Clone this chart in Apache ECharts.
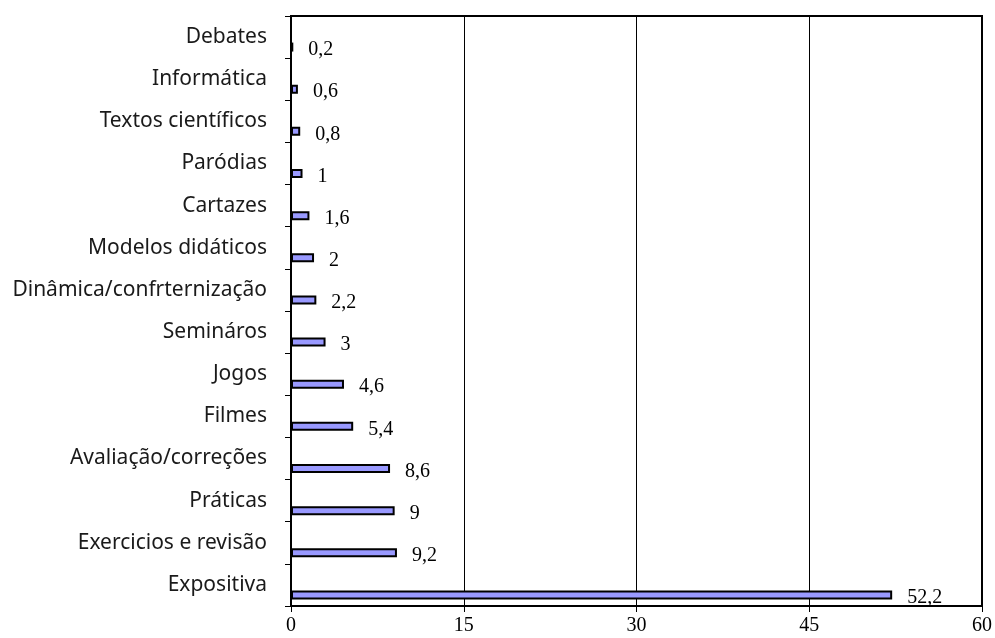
<!DOCTYPE html>
<html><head><meta charset="utf-8">
<script src="https://cdn.jsdelivr.net/npm/echarts@6/dist/echarts.min.js"></script>
<style>html,body{margin:0;padding:0;background:#fff}#c{width:995px;height:638px}</style>
</head><body><div id="c"></div>
<script>
const categories = ['Expositiva','Exercicios e revisão','Práticas','Avaliação/correções','Filmes','Jogos','Semin\u00e1ros','Dinâmica/confrternização','Modelos didáticos','Cartazes','Paródias','Textos científicos','Informática','Debates'];
const values = [52.2, 9.2, 9, 8.6, 5.4, 4.6, 3, 2.2, 2, 1.6, 1, 0.8, 0.6, 0.2];
const xTicks = [0, 15, 30, 45, 60];
const chart = echarts.init(document.getElementById('c'));
chart.setOption({
  animation: false,
  grid: {left: 291, right: 12, top: 16, bottom: 32, show: true, borderColor: '#000', borderWidth: 2},
  xAxis: {type: 'value', min: xTicks[0], max: xTicks[xTicks.length-1], interval: 15,
    axisLine: {show: true, lineStyle: {color: '#000', width: 2}},
    axisTick: {show: true, inside: false, length: 6, lineStyle: {color: '#000', width: 1}},
    splitLine: {show: true, lineStyle: {color: '#000', width: 1}},
    axisLabel: {color: '#000', fontFamily: 'Liberation Serif', fontSize: 20, margin: 10}},
  yAxis: {type: 'category', data: categories,
    axisLine: {show: true, lineStyle: {color: '#000', width: 2}},
    axisTick: {show: true, length: 6, lineStyle: {color: '#000', width: 1}},
    axisLabel: {color: '#1a1a1a', fontFamily: 'Noto Sans', fontSize: 21, margin: 24, padding: [0,0,5,0]}},
  series: [
    {type: 'bar', data: values.map(() => 0), barWidth: 9, barGap: '122%', silent: true, itemStyle: {color: 'transparent'}},
    {type: 'bar', data: values, barWidth: 9,
     itemStyle: {color: '#9999ff', borderColor: '#000', borderWidth: 2},
     label: {show: true, position: 'right', distance: 15, offset: [0, 3], color: '#000',
       fontFamily: 'Liberation Serif', fontSize: 20,
       formatter: p => String(p.value).replace('.', ',')}}
  ]
});
</script></body></html>
